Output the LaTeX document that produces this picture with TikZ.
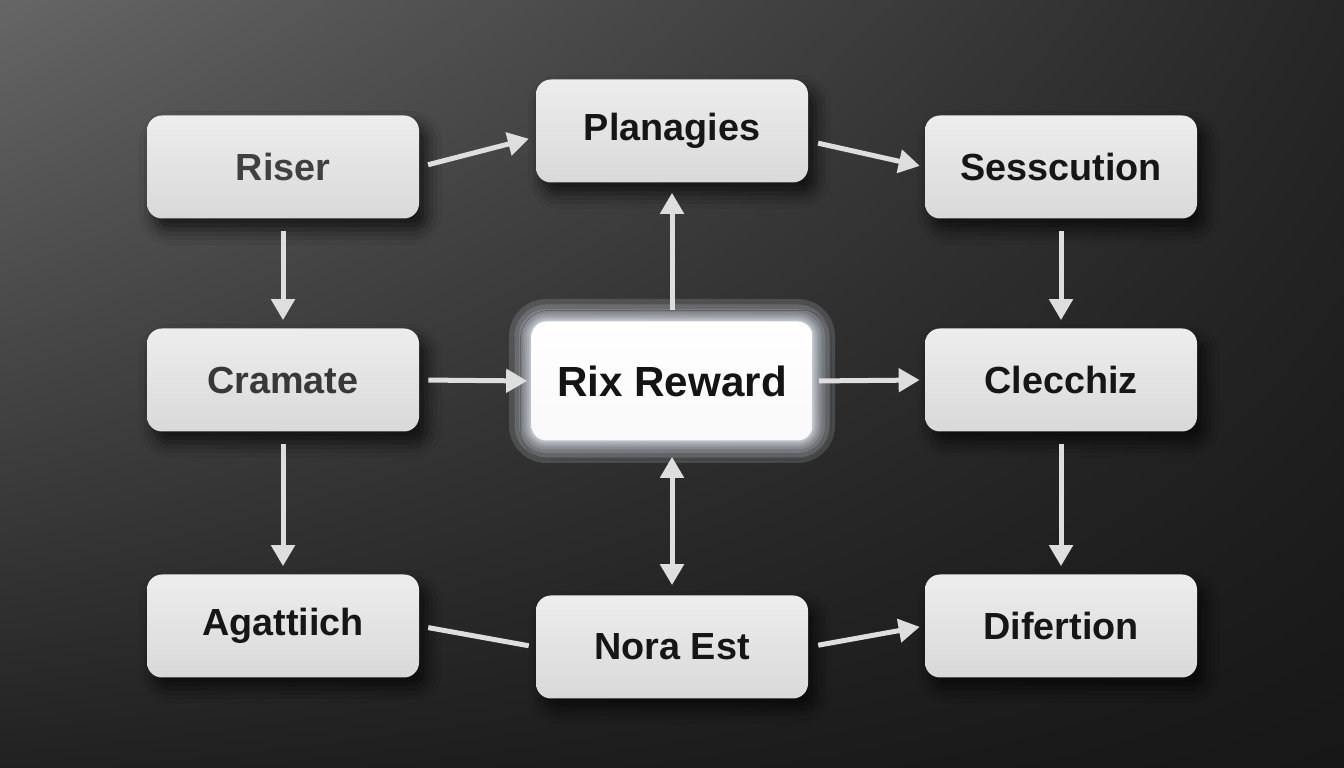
\documentclass[tikz,border=0pt]{standalone}
\usepackage{fontspec}
\setsansfont{Liberation Sans}
\usetikzlibrary{arrows.meta,shadows.blur,shadings}

\definecolor{boxtop}{HTML}{EDEDED}
\definecolor{boxbot}{HTML}{D9D9D9}
\definecolor{boxtext}{HTML}{161616}
\definecolor{linkgray}{HTML}{DEDEDE}
\definecolor{glow}{HTML}{EEF5FF}

\begin{document}
\begin{tikzpicture}[
    box/.style={rounded corners=0.3cm, minimum width=5.44cm, minimum height=2.06cm,
      top color=boxtop, bottom color=boxbot, text=boxtext,
      font=\sffamily\bfseries\fontsize{21.5}{24}\selectfont,
      blur shadow={shadow xshift=0.15cm, shadow yshift=-0.22cm, shadow blur radius=0.3cm, shadow opacity=70}},
    hub/.style={box, minimum width=5.62cm, minimum height=2.38cm,
      top color=white, bottom color=gray!5, text=black!92,
      font=\sffamily\bfseries\fontsize{24}{28}\selectfont},
    link/.style={draw=linkgray, line width=0.1cm,
      -{Triangle[length=0.42cm,width=0.46cm]}},
    line/.style={draw=linkgray, line width=0.1cm},
  ]
  \useasboundingbox (0,0) rectangle (26.88,15.36);
  \shade[upper left=black!60, upper right=black!85, lower left=black!87, lower right=black!91]
    (0,0) rectangle (26.88,15.36);

  % glow behind the middle box
  \foreach \r in {0.02,0.04,0.06,0.09,0.13,0.18,0.25,0.34,0.45}
    \fill[glow, opacity=0.15, rounded corners=0.3cm+\r cm]
      (10.63-\r,6.55-\r) rectangle (16.25+\r,8.93+\r);

  \node[box, text=black!75] (riser) at (5.66,12.02) {Riser};
  \node[box] (plan) at (13.44,12.74) {Planagies};
  \node[box] (sess) at (21.22,12.02) {Sesscution};
  \node[box, text=black!78] (cram) at (5.66,7.76) {Cramate};
  \node[hub, blur shadow={shadow opacity=0}] (rix) at (13.44,7.74) {Rix Reward};
  \node[box] (clec) at (21.22,7.76) {Clecchiz};
  \node[box] (agat) at (5.66,2.84) {Agattiich};
  \node[box] (nora) at (13.44,2.42) {Nora Est};
  \node[box] (dif) at (21.22,2.84) {Difertion};

  % top row
  \draw[link, shorten <=0.18cm, shorten >=0.14cm] (riser.east) -- ([yshift=-0.12cm]plan.west);
  \draw[link, shorten <=0.2cm, shorten >=0.1cm] ([yshift=-0.2cm]plan.east) -- (sess.west);
  % middle row
  \draw[link, shorten <=0.18cm, shorten >=0.08cm] (cram.east) -- (rix.west);
  \draw[link, shorten <=0.12cm, shorten >=0.1cm] (rix.east) -- (clec.west);
  % bottom row
  \draw[line, shorten <=0.18cm, shorten >=0.14cm] (agat.east) -- (nora.west);
  \draw[link, shorten <=0.2cm, shorten >=0.1cm] (nora.east) -- (dif.west);
  % columns
  \draw[link, shorten <=0.24cm, shorten >=0.16cm] (riser.south) -- (cram.north);
  \draw[link, shorten <=0.24cm, shorten >=0.16cm] (cram.south) -- (agat.north);
  \draw[link, shorten <=0.24cm, shorten >=0.16cm] (sess.south) -- (clec.north);
  \draw[link, shorten <=0.24cm, shorten >=0.16cm] (clec.south) -- (dif.north);
  \draw[link, shorten <=0.22cm, shorten >=0.2cm] (rix.north) -- (plan.south);
  \draw[link, {Triangle[length=0.42cm,width=0.46cm]}-{Triangle[length=0.42cm,width=0.46cm]},
    shorten <=0.32cm, shorten >=0.2cm] (rix.south) -- (nora.north);
\end{tikzpicture}
\end{document}
